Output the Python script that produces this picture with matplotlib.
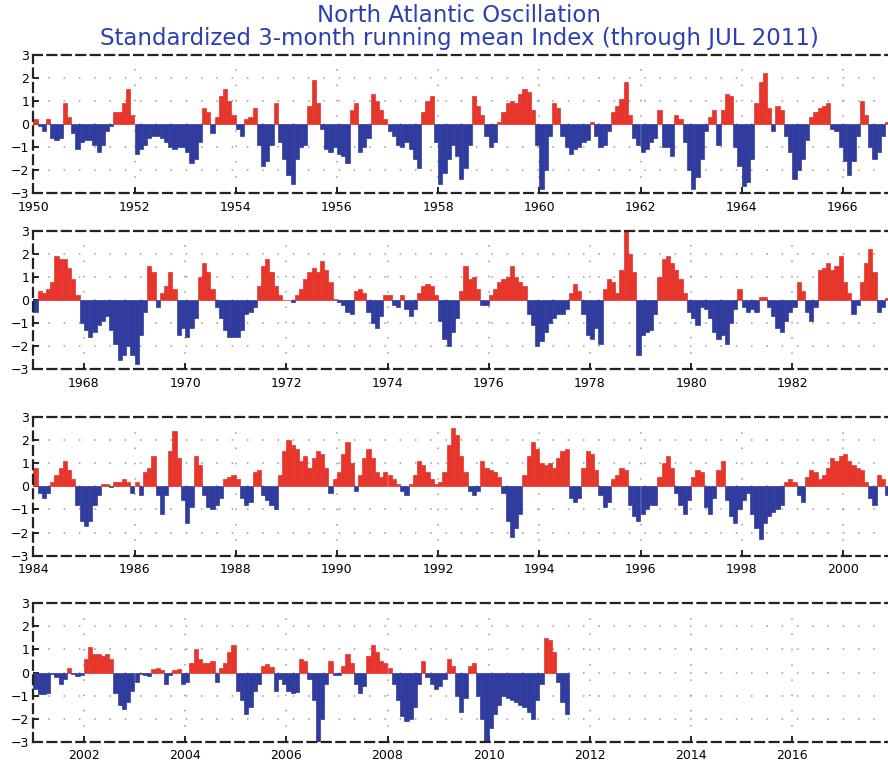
import numpy as np
import matplotlib
matplotlib.use("Agg")
import matplotlib.pyplot as plt

# Standardized 3-month running mean NAO index, monthly values (Jan..Dec)
nao_1950_1966 = [
    0.2, -0.1, -0.3, 0.2, -0.6, -0.7, -0.6, 0.9, 0.3, -0.4, -1.1, -0.8,      # 1950
    -0.7, -0.7, -0.9, -1.2, -0.9, -0.3, -0.1, 0.5, 0.5, 0.9, 1.5, 0.4,       # 1951
    -1.3, -1.1, -0.9, -0.6, -0.5, -0.5, -0.6, -0.8, -1.0, -1.1, -1.0, -1.0,  # 1952
    -1.2, -1.7, -1.5, -0.8, 0.7, 0.5, -0.4, 0.3, 1.2, 1.5, 1.0, 0.4,         # 1953
    -0.2, -0.5, 0.2, 0.3, 0.7, -0.9, -1.8, -1.6, -0.9, 0.9, -0.8, -1.5,      # 1954
    -2.2, -2.6, -1.5, -1.0, -0.9, 0.8, 1.9, 0.9, -0.2, -1.1, -1.2, -1.0,     # 1955
    -1.3, -1.4, -1.7, 0.6, 0.9, -1.2, -1.0, -0.6, 1.3, 1.0, 0.6, 0.2,        # 1956
    -0.3, -0.5, -0.9, -1.0, -0.8, -1.1, -1.5, -1.9, 0.5, 1.0, 1.2, -0.8,     # 1957
    -2.6, -2.1, -1.5, -0.9, -1.4, -2.4, -1.9, -0.9, 1.2, 0.8, 0.4, -0.5,     # 1958
    -1.0, -0.8, 0.1, 0.5, 0.9, 1.0, 0.9, 1.3, 1.5, 1.4, 0.6, -0.9,           # 1959
    -2.8, -2.0, -0.5, 0.9, 0.7, -0.5, -1.0, -1.3, -1.1, -1.0, -0.8, -0.7,    # 1960
    0.1, -0.5, -1.0, -0.9, -0.3, 0.5, 0.8, 1.1, 1.8, 0.4, -0.6, -0.9,        # 1961
    -1.2, -1.1, -0.8, -0.6, 0.6, -1.0, -1.0, -1.4, 0.4, 0.2, -0.8, -2.0,     # 1962
    -2.8, -2.3, -1.5, -0.3, 0.3, 0.6, -0.9, 0.6, 1.3, 1.2, -1.0, -1.8,       # 1963
    -2.7, -2.5, -1.5, 0.9, 1.8, 2.2, 0.7, -0.3, 0.8, 0.6, -0.5, -1.2,        # 1964
    -2.4, -2.0, -1.5, -0.7, 0.3, 0.5, 0.7, 0.8, 0.9, -0.2, -0.3, -1.0,       # 1965
    -1.6, -2.2, -1.6, -0.5, 1.0, 0.4, -1.0, -1.5, -1.2, -0.5, 0.1, -0.2,     # 1966
]
nao_1967_1983 = [
    -0.5, 0.4, 0.3, 0.5, 0.8, 1.9, 1.8, 1.8, 1.4, 0.9, 0.2, -1.0,            # 1967
    -1.3, -1.6, -1.4, -1.1, -0.9, -0.7, -1.3, -1.9, -2.6, -2.4, -2.0, -2.4,  # 1968
    -2.8, -1.5, -0.5, 1.5, 1.2, -0.3, 0.3, 0.6, 1.2, 0.5, -1.5, -1.2,        # 1969
    -1.6, -1.2, -0.8, 1.0, 1.6, 1.2, 0.5, -0.3, -0.8, -1.3, -1.6, -1.6,      # 1970
    -1.6, -1.3, -0.6, -0.5, -0.3, 0.6, 1.5, 1.8, 1.2, 0.6, 0.2, 0.02,        # 1971
    0.02, -0.1, 0.2, 0.5, 0.9, 1.2, 1.4, 1.2, 1.7, 1.3, 0.8, 0.05,           # 1972
    -0.1, -0.2, -0.5, -0.6, 0.4, 0.5, 0.3, -0.5, -1.0, -1.2, -0.7, 0.2,      # 1973
    0.2, -0.2, -0.3, 0.2, -0.4, -0.7, -0.4, 0.3, 0.6, 0.7, 0.6, 0.2,         # 1974
    -0.9, -1.7, -2.0, -1.4, -0.8, 0.4, 1.5, 0.9, 1.0, 0.5, -0.2, -0.2,       # 1975
    0.2, 0.5, 0.8, 0.9, 1.0, 1.5, 1.0, 0.8, 0.6, -0.6, -1.1, -2.0,           # 1976
    -1.8, -1.4, -1.0, -0.8, -0.6, -0.6, -0.4, 0.3, 0.7, 0.4, -0.6, -1.5,     # 1977
    -1.7, -1.2, -1.9, 0.5, 0.9, 0.8, 0.3, 1.3, 3.0, 2.0, 1.2, -2.4,          # 1978
    -1.5, -1.4, -1.3, -0.6, 1.0, 1.8, 1.9, 1.6, 1.3, 0.9, 0.3, -0.5,         # 1979
    -0.8, -1.1, -0.3, -0.4, -0.8, -1.4, -1.7, -1.5, -1.9, -1.0, -0.4, 0.5,   # 1980
    -0.3, -0.5, -0.4, -0.5, 0.15, 0.15, -0.3, -0.7, -1.2, -1.4, -0.9, -0.5,  # 1981
    -0.3, 0.8, 0.4, -0.5, -0.9, -0.3, 1.3, 1.4, 1.6, 1.3, 1.5, 1.9,          # 1982
    0.8, 0.3, -0.6, -0.2, 0.8, 1.6, 2.2, 1.2, -0.5, -0.3, 0.1, 0.1,          # 1983
]
nao_1984_2000 = [
    0.8, -0.3, -0.5, -0.3, 0.2, 0.5, 0.8, 1.1, 0.7, 0.3, -0.8, -1.5,         # 1984
    -1.7, -1.5, -0.8, -0.4, 0.1, 0.1, -0.05, 0.2, 0.2, 0.3, 0.2, -0.3,       # 1985
    0.2, -0.4, 0.6, 0.8, 1.3, -0.4, -1.2, -0.4, 1.5, 2.4, 1.2, -0.6,         # 1986
    -1.6, -0.9, 1.3, 0.9, -0.4, -0.9, -1.0, -0.8, -0.5, 0.3, 0.4, 0.5,       # 1987
    0.3, -0.5, -0.8, -0.7, 0.6, 0.7, -0.4, -0.6, -0.8, -1.0, 0.5, 1.5,       # 1988
    2.0, 1.8, 1.6, 1.1, 1.3, 0.8, 1.2, 1.5, 1.4, 0.8, -0.3, 0.3,             # 1989
    0.6, 1.4, 1.9, 1.0, -0.2, 0.5, 1.2, 1.6, 1.2, 0.6, 0.4, 0.6,             # 1990
    0.5, 0.3, 0.1, -0.2, -0.4, 0.1, 0.5, 1.1, 0.9, 0.6, 0.3, 0.1,            # 1991
    0.2, 0.6, 1.8, 2.5, 2.2, 1.3, 0.6, -0.2, -0.4, -0.2, 1.1, 0.8,           # 1992
    0.7, 0.6, 0.4, -0.3, -1.5, -2.2, -1.8, -1.2, 0.5, 1.3, 1.9, 1.6,         # 1993
    1.0, 0.9, 1.0, 0.8, 1.2, 1.5, 1.6, -0.5, -0.7, -0.5, 0.8, 1.5,           # 1994
    1.4, 0.7, -0.4, -0.9, -0.7, 0.3, 0.5, 0.8, 0.7, -0.8, -1.3, -1.5,        # 1995
    -1.2, -1.0, -0.8, -0.8, 0.4, 1.0, 1.3, 0.8, -0.3, -0.8, -1.2, -0.6,      # 1996
    0.4, 0.7, 0.6, -0.9, -1.2, -0.5, 0.7, 1.1, -0.6, -1.3, -1.6, -1.0,       # 1997
    -0.6, -0.3, -1.2, -1.8, -2.3, -1.6, -1.3, -1.1, -1.0, -0.8, 0.2, 0.3,    # 1998
    0.2, -0.4, -0.7, 0.4, 0.7, 0.6, 0.3, 0.5, 0.8, 1.2, 1.1, 1.3,            # 1999
    1.4, 1.1, 0.9, 0.8, 0.7, 0.2, -0.5, -0.8, 0.5, 0.3, -0.4, -0.5,          # 2000
]
nao_2001_2011 = [
    -0.7, -0.95, -0.95, -0.9, -0.05, -0.2, -0.5, -0.3, 0.2, -0.05, -0.15, -0.1,  # 2001
    0.6, 1.1, 0.8, 0.8, 0.7, 0.8, 0.6, -0.9, -1.4, -1.6, -1.3, -0.8,         # 2002
    -0.4, -0.05, -0.1, -0.15, 0.15, 0.2, 0.1, -0.5, -0.1, 0.1, 0.15, -0.5,   # 2003
    -0.4, 0.4, 1.0, 0.6, 0.4, 0.4, 0.5, -0.4, 0.2, 0.4, 0.9, 1.2,            # 2004
    -0.8, -1.2, -1.8, -1.5, -0.8, -0.5, 0.3, 0.35, 0.25, -0.8, -0.3, -0.5,   # 2005
    -0.8, -0.9, -0.85, 0.6, 0.5, -0.3, -1.2, -3.0, -2.0, -0.5, 0.5, -0.1,    # 2006
    -0.1, 0.3, 0.8, 0.4, -0.5, -0.9, -0.6, 0.7, 1.2, 0.9, 0.5, 0.4,          # 2007
    0.2, -0.5, -1.2, -1.9, -2.1, -2.0, -1.5, -0.5, 0.5, -0.2, -0.5, -0.7,    # 2008
    -0.6, -0.3, 0.6, 0.3, -1.0, -1.7, -1.1, 0.3, 0.4, -1.0, -2.0, -3.0,      # 2009
    -2.4, -1.8, -1.4, -1.0, -1.1, -1.2, -1.3, -1.4, -1.5, -1.7, -2.0, -1.2,  # 2010
    -0.5, 1.5, 1.4, 0.9, -0.4, -1.3, -1.8,                                   # 2011 (through Jul)
]
panel_starts = [1950, 1967, 1984, 2001]
yticks = [-3, -2, -1, 0, 1, 2, 3]
title_line1 = "North Atlantic Oscillation"
title_line2 = "Standardized 3-month running mean Index (through JUL 2011)"

values = np.array(nao_1950_1966 + nao_1967_1983 + nao_1984_2000 + nao_2001_2011)
months = 1950 + (np.arange(len(values)) + 0.5) / 12.0

RED = "#e6352b"
BLUE = "#2f3c9e"
TITLE_BLUE = "#2b3fb0"

fig = plt.figure(figsize=(8.88, 7.64), dpi=100)
fig.patch.set_facecolor("white")

W, H = 888.0, 764.0
left_px = 33.3
width_px = 50.6 * 17
panel_px = [(54.7, 193.3), (231.0, 369.0), (416.7, 555.7), (603.3, 741.7)]

colors = np.where(values >= 0, RED, BLUE)

for start, (top, bot) in zip(panel_starts, panel_px):
    ax = fig.add_axes([left_px / W, (H - bot) / H, width_px / W, (bot - top) / H])
    ax.bar(months, values, width=1 / 12.0, color=colors, edgecolor=colors,
           linewidth=0.5, align="center", zorder=2)
    ax.set_xlim(start, start + 17)
    ax.set_ylim(-3, 3)
    first_even = start if start % 2 == 0 else start + 1
    xt = list(range(first_even, start + 17, 2))
    ax.set_xticks(xt)
    ax.set_xticklabels([str(t) for t in xt])
    ax.set_yticks(yticks)
    ax.set_yticklabels([str(t).replace("-", "\u2212") for t in yticks])
    ax.tick_params(axis="both", direction="in", length=4, width=1.2,
                   labelsize=9, colors="black", pad=3)
    ax.tick_params(axis="x", pad=5.5)
    for g in [-2, -1, 0, 1, 2]:
        ax.axhline(g, color="#9a9a9a", linestyle=(0, (1, 9)), linewidth=1.1, zorder=1)
    for t in xt:
        ax.axvline(t, color="#9a9a9a", linestyle=(0, (1, 9)), linewidth=1.1, zorder=1)
    for s in ["top", "bottom", "left"]:
        ax.spines[s].set_linestyle((0, (4, 2.5)))
        ax.spines[s].set_linewidth(1.6)
        ax.spines[s].set_color("#222222")
    ax.spines["right"].set_visible(False)
    ax.set_facecolor("white")

fig.text(459 / W, 1 - 27 / H, title_line1 + "\n" + title_line2,
         ha="center", va="center", multialignment="center",
         color=TITLE_BLUE, fontsize=16.5, linespacing=0.95)

fig.savefig("out.png", dpi=100, facecolor="white")
